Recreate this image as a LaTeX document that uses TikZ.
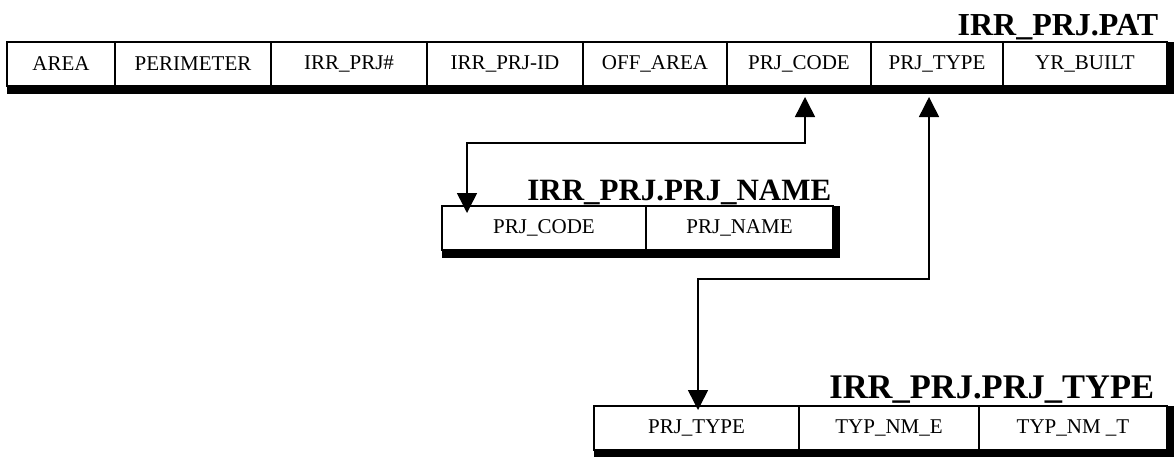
\documentclass[tikz,border=0pt]{standalone}
\usepackage{fontspec}
\setmainfont{Liberation Serif}
\usetikzlibrary{arrows.meta,positioning,backgrounds}

\begin{document}
\begin{tikzpicture}[x=1pt, y=1pt, >={Triangle[length=20pt,width=20pt]}, line width=1.5pt, node distance=0pt]
\tikzstyle{cell}=[draw=black,fill=white,outer sep=0pt,inner sep=0pt,minimum height=44pt,font=\fontsize{21}{21}\selectfont]
\tikzstyle{title}=[anchor=base east,inner sep=0pt,font=\fontsize{31}{31}\selectfont\bfseries]
\useasboundingbox (0,0) rectangle (1174,-456);

% IRR_PRJ.PAT
\node[cell,minimum width=108pt,anchor=north west] (area) at (7,-42) {AREA};
\node[cell,minimum width=156pt] (perim)  [right=of area]   {PERIMETER};
\node[cell,minimum width=156pt] (prjno)  [right=of perim]  {IRR\_PRJ\#};
\node[cell,minimum width=156pt] (prjid)  [right=of prjno]  {IRR\_PRJ-ID};
\node[cell,minimum width=144pt] (offar)  [right=of prjid]  {OFF\_AREA};
\node[cell,minimum width=144pt] (patcode)[right=of offar]  {PRJ\_CODE};
\node[cell,minimum width=132pt] (pattype)[right=of patcode]{PRJ\_TYPE};
\node[cell,minimum width=164pt] (built)  [right=of pattype]{YR\_BUILT};
\node[title,font=\fontsize{32}{32}\selectfont\bfseries] (pat) at ([shift={(-8,7)}]built.north east) {IRR\_PRJ.PAT};

% IRR_PRJ.PRJ_NAME
\node[cell,minimum width=204pt,anchor=north west] (namecode) at (442,-206) {PRJ\_CODE};
\node[cell,minimum width=187pt] (prjname)[right=of namecode] {PRJ\_NAME};
\node[title] (nametab) at ([shift={(-1,6)}]prjname.north east) {IRR\_PRJ.PRJ\_NAME};

% IRR_PRJ.PRJ_TYPE
\node[cell,minimum width=205pt,anchor=north west] (typecode) at (594,-406) {PRJ\_TYPE};
\node[cell,minimum width=180pt] (typnme)[right=of typecode] {TYP\_NM\_E};
\node[cell,minimum width=188pt] (typnmt)[right=of typnme]   {TYP\_NM \_T};
\node[title,font=\fontsize{34.5}{34.5}\selectfont\bfseries] (typetab) at ([shift={(-12,8)}]typnmt.north east) {IRR\_PRJ.PRJ\_TYPE};

% shadows
\begin{scope}[on background layer]
\fill (area.north west) rectangle ([shift={(7,-8)}]built.south east);
\fill (namecode.north west) rectangle ([shift={(7,-8)}]prjname.south east);
\fill (typecode.north west) rectangle ([shift={(7,-8)}]typnmt.south east);
\end{scope}

% links
\coordinate (c1) at ([shift={(6,-11)}]patcode.south);
\coordinate (c2) at ([shift={(25,-7)}]namecode.north west);
\coordinate (t1) at ([shift={(-8,-11)}]pattype.south);
\coordinate (t2) at ([shift={(104,-4)}]typecode.north west);
\draw[<->] (c1) -- ++(0,-46) -| (c2);
\draw[<->] (t1) -- ++(0,-182) -| (t2);
\end{tikzpicture}
\end{document}
